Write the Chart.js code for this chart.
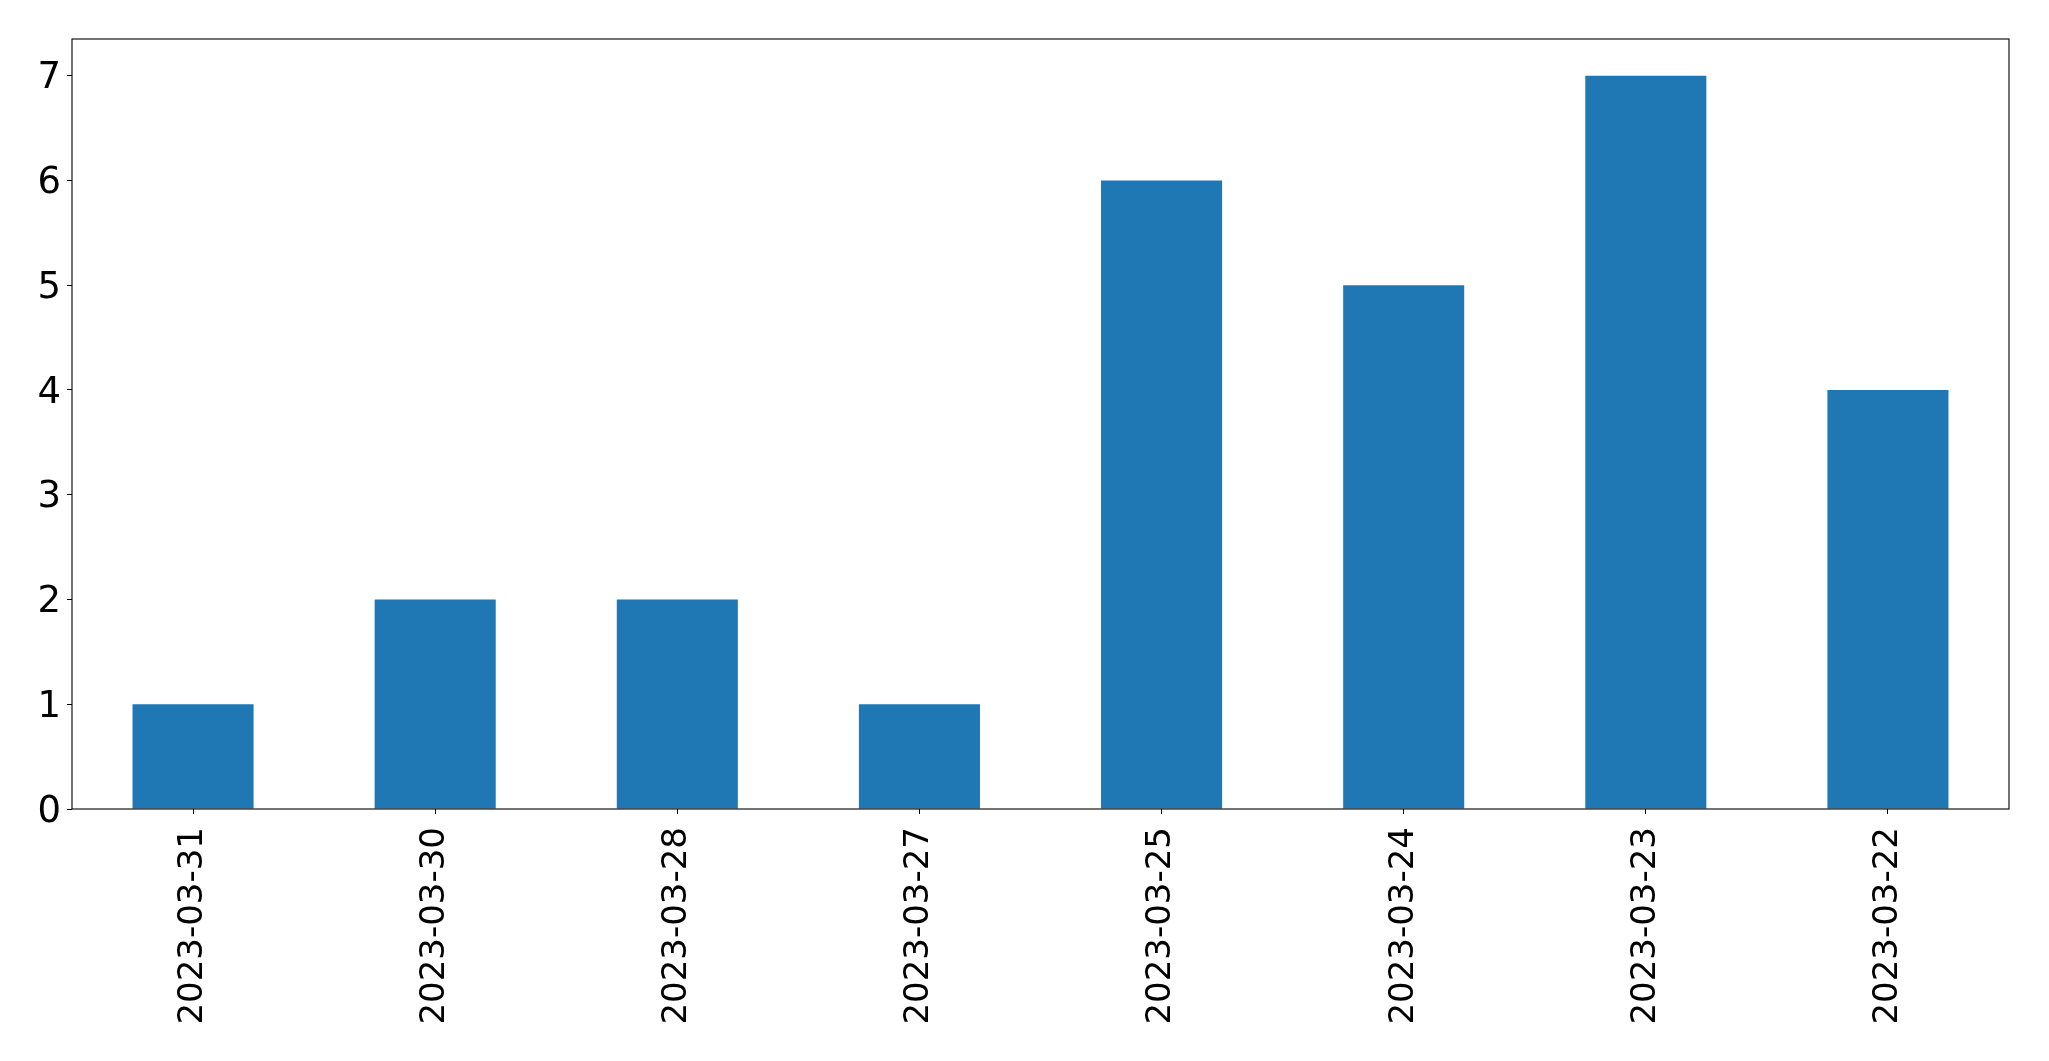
<!DOCTYPE html>
<html>
<head>
<meta charset="utf-8">
<script src="https://cdn.jsdelivr.net/npm/chart.js@4"></script>
<style>
  html, body { margin: 0; padding: 0; background: #fff; }
  #wrap { width: 2049px; height: 1061px; position: relative; }
</style>
</head>
<body>
<div id="wrap"><canvas id="counts"></canvas></div>
<script>
const dates = ['2023-03-31', '2023-03-30', '2023-03-28', '2023-03-27', '2023-03-25', '2023-03-24', '2023-03-23', '2023-03-22'];
const counts = [1, 2, 2, 1, 6, 5, 7, 4];
const yTicks = [0, 1, 2, 3, 4, 5, 6, 7];
const yMax = 7.35;

// box round the plot area, like the matplotlib spines
const frame = {
    id: 'frame',
    afterDraw(chart) {
        const a = chart.chartArea;
        const ctx = chart.ctx;
        ctx.save();
        ctx.strokeStyle = '#000';
        ctx.lineWidth = 1.1;
        ctx.strokeRect(a.left, a.top, a.right - a.left, a.bottom - a.top);
        ctx.restore();
    }
};

const counts_chart = new Chart(
    document.getElementById('counts'),
    config = {
    type: 'bar',
    data: {
        labels: dates,
        datasets: [{
            data: counts,
            backgroundColor: '#1f77b4',
            borderWidth: 0,
            barPercentage: 0.5,
            categoryPercentage: 1.0
        }]
    },
    options: {
        responsive: true,
        maintainAspectRatio: false,
        animation: false,
        layout: {
            padding: { top: 39, right: 40, left: 0, bottom: 0 }
        },
        plugins: {
            legend: { display: false },
            tooltip: { enabled: false }
        },
        scales: {
            x: {
                grid: {
                    display: true,
                    drawOnChartArea: false,
                    drawTicks: true,
                    tickLength: 5,
                    color: '#000',
                    lineWidth: 1,
                    offset: false
                },
                border: { display: false },
                ticks: {
                    color: '#000',
                    font: { family: 'DejaVu Sans', size: 34 },
                    minRotation: 90,
                    maxRotation: 90,
                    autoSkip: false,
                    padding: 13
                },
                afterFit(scale) { scale.height = 252; }
            },
            y: {
                min: 0,
                max: yMax,
                grid: {
                    display: true,
                    drawOnChartArea: false,
                    drawTicks: true,
                    tickLength: 5,
                    color: '#000',
                    lineWidth: 1
                },
                border: { display: false },
                ticks: {
                    color: '#000',
                    font: { family: 'DejaVu Sans', size: 37 },
                    padding: 6,
                    labelOffset: 3
                },
                afterBuildTicks(scale) {
                    scale.ticks = yTicks.map(v => ({ value: v }));
                },
                afterFit(scale) { scale.width = 72; }
            }
        }
    },
    plugins: [frame]
    }
);
</script>
</body>
</html>
